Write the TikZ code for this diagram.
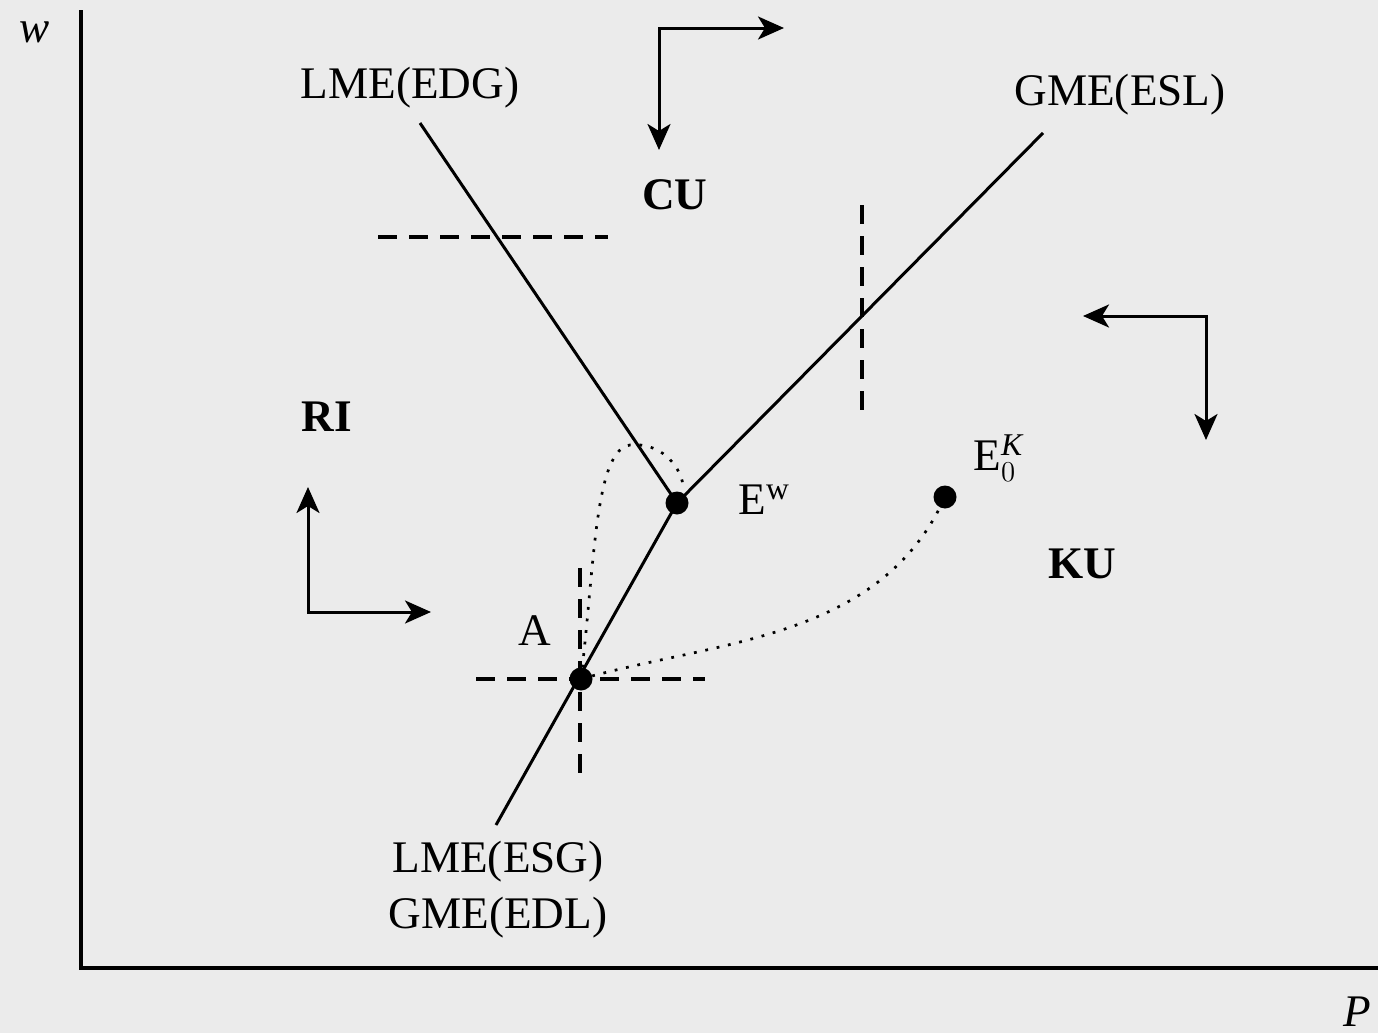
\documentclass[tikz,border=0pt]{standalone}
\usepackage{fontspec}
\setmainfont{Liberation Serif}
\usetikzlibrary{arrows.meta}
\definecolor{bgcol}{HTML}{EBEBEB}
\begin{document}
\begin{tikzpicture}[x=0.5pt,y=-0.5pt,
  lbl/.style={font=\fontsize{22.6}{27}\selectfont, inner sep=0pt},
  region/.style={lbl, font=\fontsize{22.6}{27}\selectfont\bfseries},
  curve/.style={line width=1.5pt},
  guide/.style={line width=1.7pt, dash pattern=on 9.5pt off 6pt},
  path/.style={line width=1.35pt, dash pattern=on 1.4pt off 4.4pt},
  move/.style={line width=1.5pt, line cap=rect, {Stealth[length=13pt,width=11.5pt,inset=3.5pt]}-{Stealth[length=13pt,width=11.5pt,inset=3.5pt]}},
  eqdot/.style={circle, fill=black, inner sep=0pt, minimum size=11.5pt}]
% canvas
\fill[bgcol] (0,0) rectangle (1378,1033);
\useasboundingbox (0,0) rectangle (1378,1033);

% axes
\coordinate (origin) at (81,968);
\coordinate (ytop) at (81,10);
\coordinate (xend) at (1378,968);
\draw[line width=1.6pt] (ytop) -- (origin) -- (xend);
\node[lbl, font=\fontsize{22.6}{27}\selectfont\itshape] (wlab) at (35,32) {w};
\node[lbl, font=\fontsize{22.6}{27}\selectfont\itshape] (plab) at (1357,1012) {P};

% equilibrium points
\node[eqdot] (Ew) at (677,503) {};
\node[eqdot] (A) at (581,679) {};
\node[eqdot] (EK) at (945,497) {};

% schedules
\coordinate (edgtop) at (420,123);
\coordinate (esltop) at (1043,133);
\coordinate (esgbot) at (496,825);
\draw[curve] (edgtop) -- (Ew.center);
\draw[curve] (esltop) -- (Ew.center) -- (esgbot);

\node[lbl] (LMEEDG) at (410,88) {LME(EDG)};
\node[lbl] (GMEESL) at (1120,95) {GME(ESL)};
\node[lbl, align=center, font=\fontsize{22.6}{28}\selectfont] (LMEESG) at (498,890) {LME(ESG)\\GME(EDL)};

% dashed guides
\coordinate (g1a) at (378,237); \coordinate (g1b) at (608,237);
\coordinate (g2a) at (862,205); \coordinate (g2b) at (862,418);
\coordinate (g3a) at (476,679); \coordinate (g3b) at (705,679);
\coordinate (g4a) at (580,568); \coordinate (g4b) at (580,783);
\draw[guide] (g1a) -- (g1b);
\draw[guide] (g2a) -- (g2b);
\draw[guide] (g3a) -- (g3b);
\draw[guide] (g4a) -- (g4b);

% adjustment paths
\draw[path] (A.center) .. controls (595,560) and (595,450) .. (630,445)
  .. controls (660,442) and (680,465) .. (683,485);
\draw[path] (A.center) .. controls (720,640) and (880,640) .. (EK.center);

% labels
\node[lbl] (Alab) at (535,631) {A};
\node[lbl, anchor=west] (Ewlab) at (738,500) {E\textsuperscript{w}};
\node[lbl, anchor=west] (EKlab) at (973,458) {E$_0^{\mathit{K}}$};
\node[region] (CU) at (675,195) {CU};
\node[region] (RI) at (327,417) {RI};
\node[region] (KU) at (1082,564) {KU};

% direction arrows
\coordinate (c1) at (659,28);
\coordinate (c1d) at (659,150); \coordinate (c1r) at (784,28);
\draw[move] (c1d) -- (c1) -- (c1r);
\coordinate (c2) at (1206,316);
\coordinate (c2l) at (1083,316); \coordinate (c2d) at (1206,440);
\draw[move] (c2l) -- (c2) -- (c2d);
\coordinate (c3) at (308,612);
\coordinate (c3u) at (308,487); \coordinate (c3r) at (431,612);
\draw[move] (c3u) -- (c3) -- (c3r);
\end{tikzpicture}
\end{document}
